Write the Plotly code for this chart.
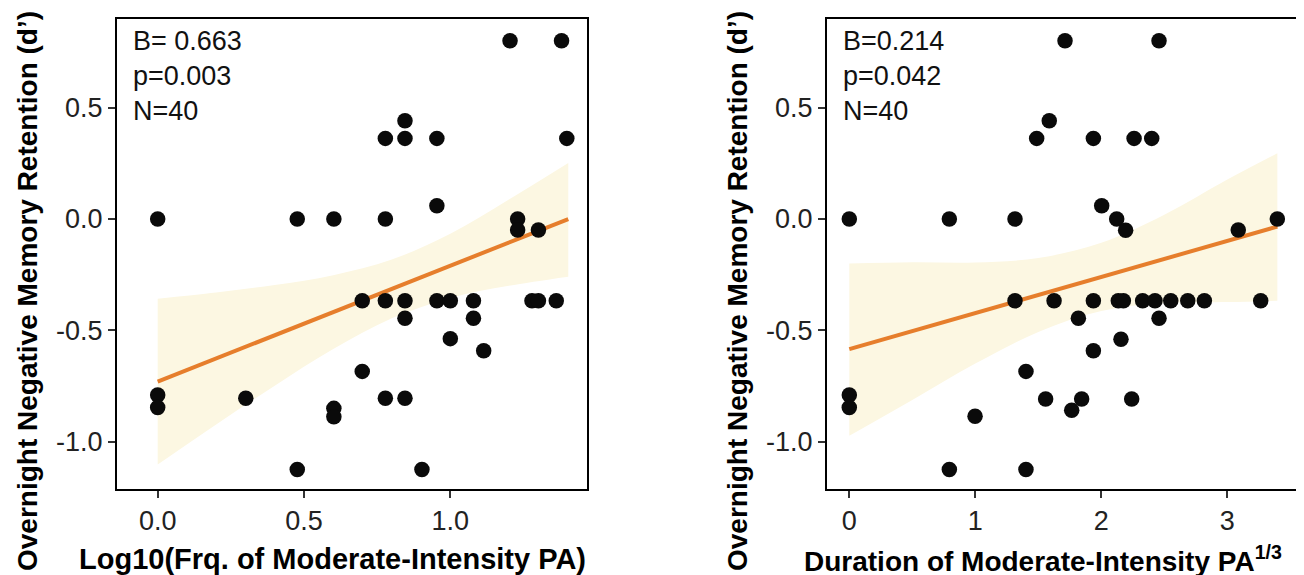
import plotly.graph_objects as go

# ---------------- Left panel data ----------------
left_x = [1.204, 1.380, 0.845, 0.778, 0.845, 0.954, 1.398,
          0.0, 0.477, 0.602, 0.778, 0.954, 1.230, 1.230, 1.301,
          0.699, 0.778, 0.845, 0.954, 1.000, 1.079, 1.279, 1.301, 1.362,
          0.845, 1.079, 1.000, 1.114, 0.699,
          0.0, 0.0, 0.301, 0.778, 0.845, 0.602, 0.602, 0.477, 0.903]
left_y = [0.80, 0.80, 0.441, 0.362, 0.362, 0.362, 0.362,
          0.0, 0.0, 0.0, 0.0, 0.06, 0.0, -0.049, -0.049,
          -0.367, -0.367, -0.367, -0.367, -0.367, -0.367, -0.367, -0.367, -0.367,
          -0.445, -0.445, -0.537, -0.591, -0.684,
          -0.79, -0.846, -0.805, -0.805, -0.805, -0.85, -0.888, -1.124, -1.124]

left_fit_x = [0.0, 1.403]
left_fit_y = [-0.73, 0.0]
left_band_x = [0.0, 0.2, 0.4, 0.6, 0.8, 1.0, 1.2, 1.403]
left_band_hi = [-0.358, -0.330, -0.296, -0.252, -0.182, -0.066, 0.088, 0.252]
left_band_lo = [-1.102, -0.922, -0.748, -0.584, -0.446, -0.354, -0.300, -0.259]

# ---------------- Right panel data ----------------
right_x = [1.712, 2.458, 1.587, 1.487, 1.937, 2.260, 2.400,
           0.0, 0.794, 1.315, 2.003, 2.122, 2.193, 3.087, 3.397,
           1.315, 1.625, 1.937, 2.135, 2.175, 2.328, 2.426, 2.551, 2.686, 2.818, 3.265,
           1.818, 2.458, 2.156, 1.937, 1.402,
           0.0, 0.0, 1.558, 1.844, 2.241, 1.765, 0.998, 0.794, 1.402]
right_y = [0.80, 0.80, 0.441, 0.362, 0.362, 0.362, 0.362,
           0.0, 0.0, 0.0, 0.06, 0.0, -0.05, -0.049, 0.0,
           -0.367, -0.367, -0.367, -0.367, -0.367, -0.367, -0.367, -0.367, -0.367, -0.367, -0.367,
           -0.445, -0.445, -0.54, -0.591, -0.684,
           -0.79, -0.846, -0.808, -0.808, -0.808, -0.858, -0.885, -1.124, -1.124]

right_fit_x = [0.0, 3.397]
right_fit_y = [-0.584, -0.034]
right_band_x = [0.0, 0.5, 1.0, 1.5, 2.0, 2.5, 3.0, 3.397]
right_band_hi = [-0.200, -0.194, -0.195, -0.175, -0.107, 0.019, 0.177, 0.295]
right_band_lo = [-0.973, -0.812, -0.649, -0.507, -0.413, -0.377, -0.373, -0.367]

y_ticks = [-1.0, -0.5, 0.0, 0.5]
y_ticktext = ["-1.0", "-0.5", "0.0", "0.5"]
left_xticks = [0.0, 0.5, 1.0]
left_xticktext = ["0.0", "0.5", "1.0"]
right_xticks = [0, 1, 2, 3]
right_xticktext = ["0", "1", "2", "3"]

left_stats = "B= 0.663<br>p=0.003<br>N=40"
right_stats = "B=0.214<br>p=0.042<br>N=40"
y_title = "Overnight Negative Memory Retention (d\u2019)"
left_xtitle = "Log10(Frq. of Moderate-Intensity PA)"
right_xtitle = "Duration of Moderate-Intensity PA<sup>1/3</sup>"

BAND = "#FCF7E2"
LINE = "#E67E2C"
PT = "#0A0A0A"
FONT = "Liberation Sans, Arial, sans-serif"

fig = go.Figure()

def add_panel(bx, hi, lo, fx, fy, px, py, xa, ya):
    fig.add_trace(go.Scatter(x=bx, y=hi, mode="lines", line=dict(width=0, shape="spline", color=BAND),
                             xaxis=xa, yaxis=ya, showlegend=False, hoverinfo="skip"))
    fig.add_trace(go.Scatter(x=bx, y=lo, mode="lines", line=dict(width=0, shape="spline", color=BAND),
                             fill="tonexty", fillcolor=BAND,
                             xaxis=xa, yaxis=ya, showlegend=False, hoverinfo="skip"))
    fig.add_trace(go.Scatter(x=fx, y=fy, mode="lines", line=dict(width=4, color=LINE),
                             xaxis=xa, yaxis=ya, showlegend=False))
    fig.add_trace(go.Scatter(x=px, y=py, mode="markers", marker=dict(size=15.5, color=PT),
                             xaxis=xa, yaxis=ya, showlegend=False))

add_panel(left_band_x, left_band_hi, left_band_lo, left_fit_x, left_fit_y, left_x, left_y, "x", "y")
add_panel(right_band_x, right_band_hi, right_band_lo, right_fit_x, right_fit_y, right_x, right_y, "x2", "y2")

# page body has an 8px margin, so the figure is drawn 8px in from the window corner
OFF = 8
W, H = 1304 - OFF, 575 - OFF
ml, mr, mt, mb = 117 - OFF, 7, 19 - OFF, 86
pw = W - ml - mr
ph = H - mt - mb
d1 = [0, 470 / pw]
d2 = [710 / pw, 1]

axis_common = dict(showline=True, mirror=True, linecolor="black", linewidth=2,
                   ticks="outside", ticklen=7, tickwidth=1.5, tickcolor="#333333",
                   showgrid=False, zeroline=False, automargin=False,
                   tickfont=dict(family=FONT, size=27, color="#222222"))

yrange = [-1.212, 0.898]

fig.update_layout(
    width=W, height=H,
    margin=dict(l=ml, r=mr, t=mt, b=mb),
    plot_bgcolor="white", paper_bgcolor="white",
    font=dict(family=FONT, color="black"),
    xaxis=dict(domain=d1, range=[-0.139, 1.467], tickvals=left_xticks, ticktext=left_xticktext,
               anchor="y", **axis_common),
    yaxis=dict(domain=[0, 1], range=yrange, tickvals=y_ticks, ticktext=y_ticktext,
               anchor="x", **axis_common),
    xaxis2=dict(domain=d2, range=[-0.177, 3.553], tickvals=right_xticks, ticktext=right_xticktext,
                anchor="y2", **axis_common),
    yaxis2=dict(domain=[0, 1], range=yrange, tickvals=y_ticks, ticktext=y_ticktext,
                anchor="x2", **axis_common),
)

def px_x(p):
    return (p - OFF - ml) / pw

def px_y(p):
    return (H - mb - (p - OFF)) / ph

# stats annotations
for xref, yref, txt in [("x domain", "y domain", left_stats), ("x2 domain", "y2 domain", right_stats)]:
    fig.add_annotation(xref=xref, yref=yref, x=0.0, y=1.0, xanchor="left", yanchor="top",
                       xshift=14, yshift=-5, text=txt, showarrow=False, align="left",
                       font=dict(family=FONT, size=27, color="#111111"))

# x-axis titles
for xc, txt, fs in [(332, left_xtitle, 29), (1043, right_xtitle, 28)]:
    fig.add_annotation(xref="paper", yref="paper", x=px_x(xc), y=px_y(559),
                       xanchor="center", yanchor="middle", text=txt, showarrow=False,
                       font=dict(family=FONT, size=fs, weight="bold", color="black"))

# y-axis titles (rotated)
for xc in [27, 737]:
    fig.add_annotation(xref="paper", yref="paper", x=px_x(xc), y=px_y(291),
                       xanchor="center", yanchor="middle", textangle=-90, text=y_title,
                       showarrow=False, font=dict(family=FONT, size=28, weight="bold", color="black"))

fig.write_html("out.html")
